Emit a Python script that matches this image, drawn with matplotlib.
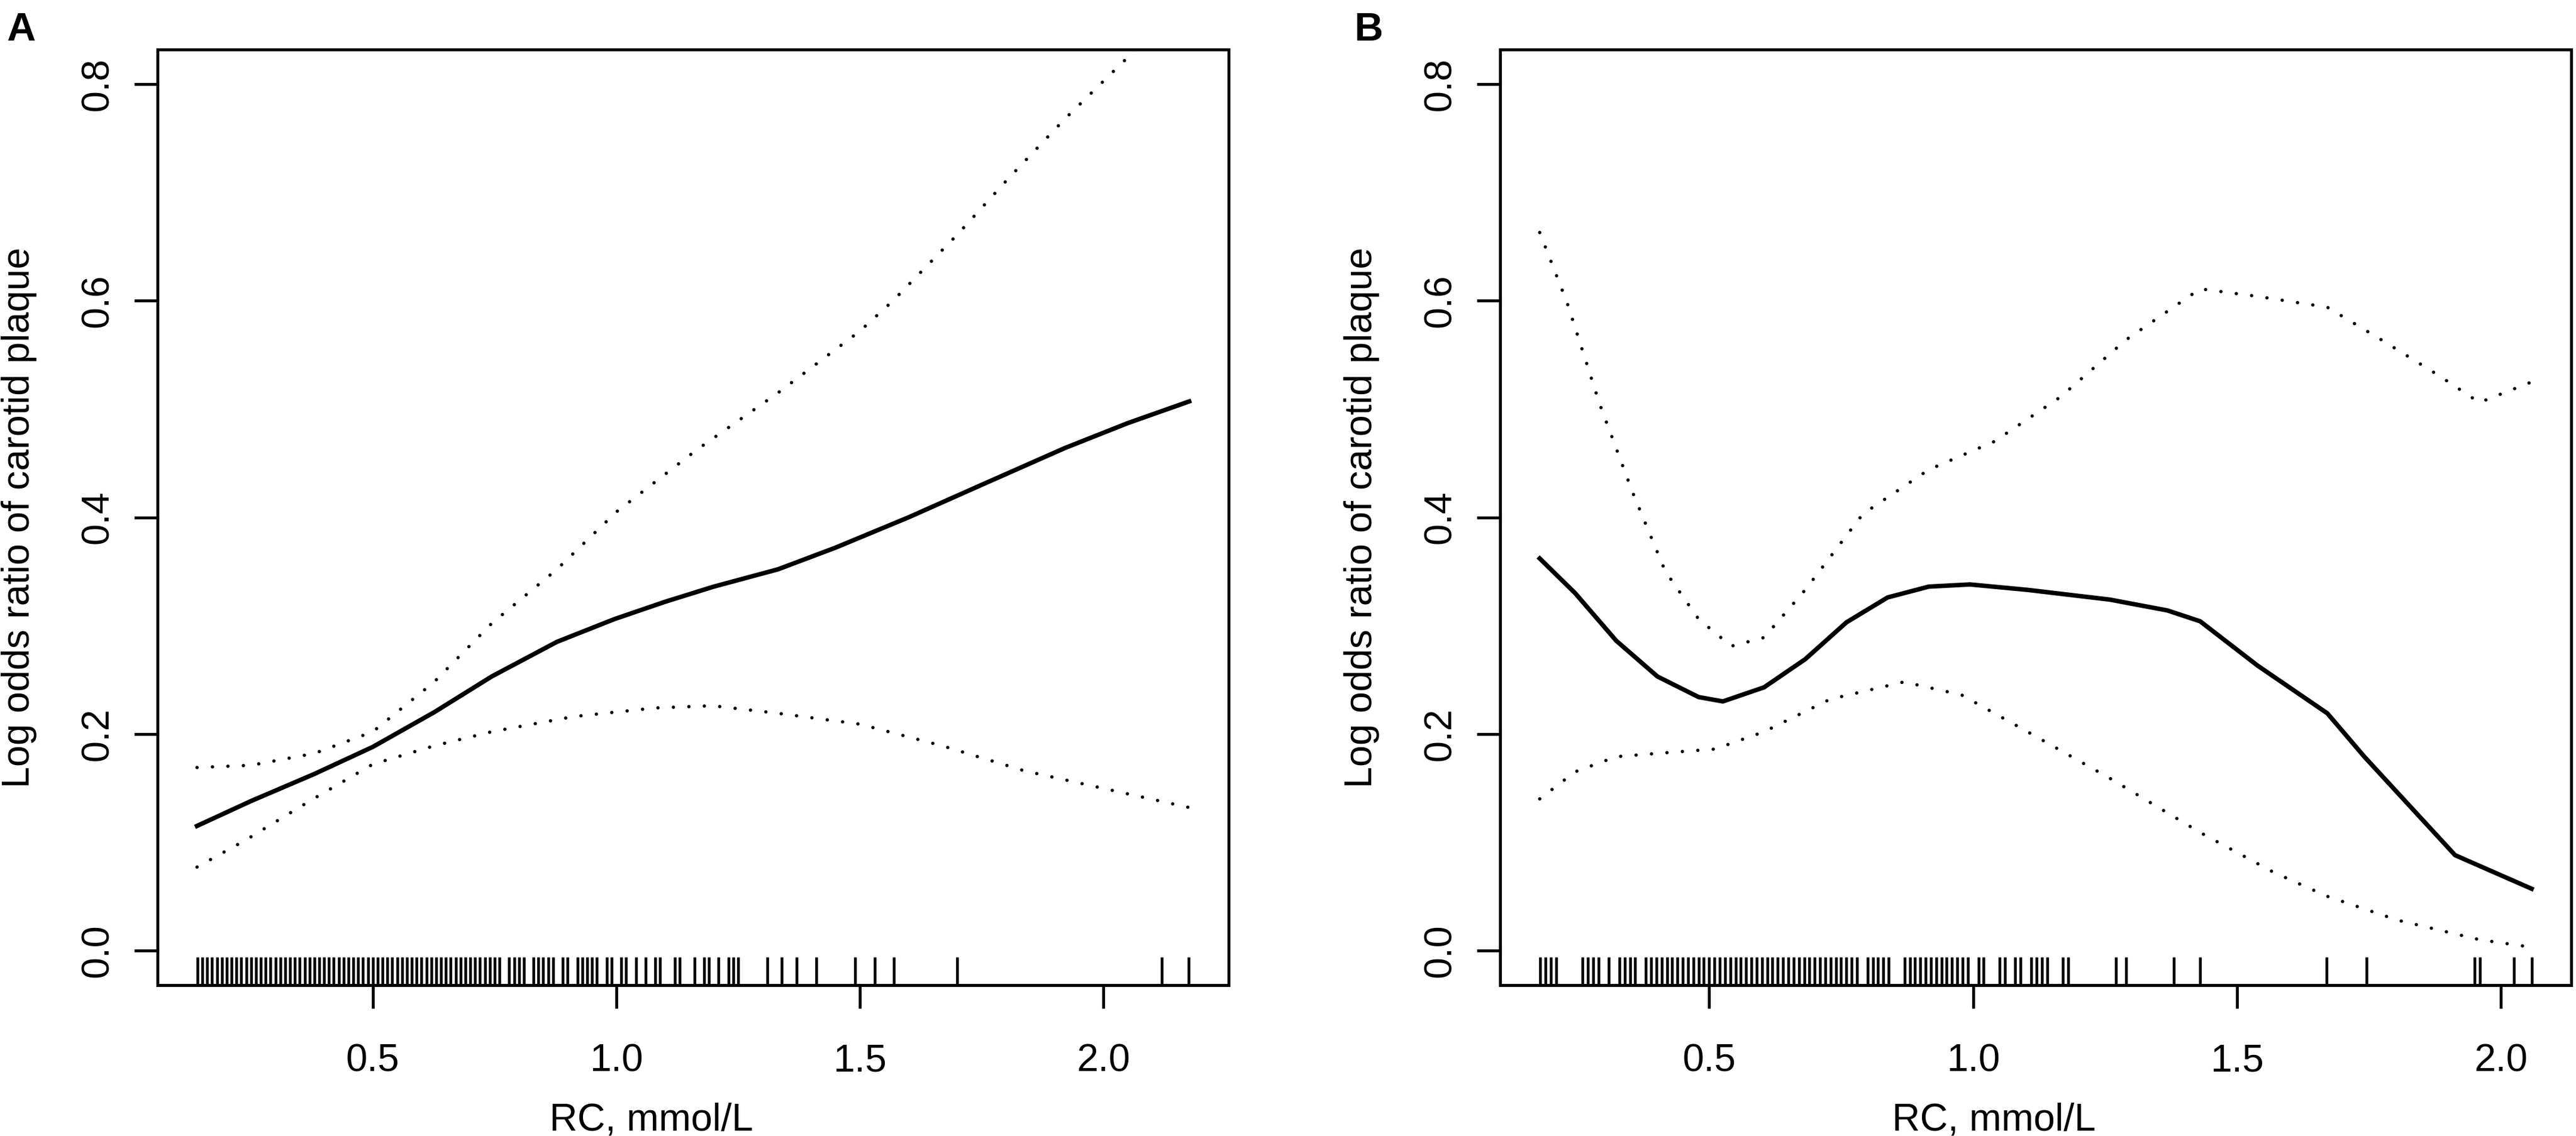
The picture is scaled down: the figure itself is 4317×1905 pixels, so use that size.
import matplotlib
matplotlib.use("Agg")
from matplotlib import pyplot as plt

plt.rcParams['font.family'] = ['Liberation Sans', 'DejaVu Sans']

# ---- data ----
# panel A
a_fit_x = [0.139, 0.250, 0.380, 0.500, 0.626, 0.744, 0.878, 0.996, 1.100, 1.200, 1.332,
           1.450, 1.600, 1.750, 1.921, 2.050, 2.176]
a_fit_y = [0.115, 0.138, 0.163, 0.188, 0.220, 0.253, 0.285, 0.306, 0.322, 0.336, 0.352,
           0.372, 0.400, 0.430, 0.464, 0.487, 0.507]
a_lo_x = [0.139, 0.239, 0.374, 0.500, 0.626, 0.744, 0.912, 1.080, 1.198, 1.332, 1.500, 1.669, 1.837, 2.176]
a_lo_y = [0.077, 0.102, 0.139, 0.172, 0.189, 0.202, 0.216, 0.224, 0.226, 0.219, 0.209, 0.189, 0.166, 0.132]
a_hi_x = [0.139, 0.250, 0.380, 0.500, 0.626, 0.744, 0.878, 1.000, 1.164, 1.332, 1.500, 1.568,
          1.702, 1.805, 1.921, 2.046, 2.176]
a_hi_y = [0.169, 0.171, 0.182, 0.202, 0.248, 0.302, 0.352, 0.405, 0.462, 0.515, 0.572, 0.600,
          0.662, 0.713, 0.768, 0.823, 0.882]
a_rug = [0.14, 0.15, 0.16, 0.17, 0.18, 0.19, 0.20, 0.21, 0.22, 0.23, 0.24, 0.25, 0.26,
         0.27, 0.28, 0.29, 0.30, 0.31, 0.32, 0.33, 0.34, 0.35, 0.36, 0.37, 0.38, 0.39,
         0.40, 0.41, 0.42, 0.43, 0.44, 0.45, 0.46, 0.47, 0.48, 0.49, 0.50, 0.51, 0.52,
         0.53, 0.54, 0.55, 0.56, 0.57, 0.58, 0.59, 0.60, 0.61, 0.62, 0.63, 0.64, 0.65,
         0.66, 0.67, 0.68, 0.69, 0.70, 0.71, 0.72, 0.73, 0.74, 0.75, 0.76,
         0.78, 0.79, 0.80, 0.81, 0.83, 0.84, 0.85, 0.86, 0.87, 0.89, 0.90,
         0.92, 0.93, 0.94, 0.95, 0.96, 0.98, 0.99, 1.01, 1.02, 1.04, 1.06, 1.08, 1.09,
         1.12, 1.13, 1.16, 1.18, 1.19, 1.21, 1.23, 1.24, 1.25,
         1.31, 1.34, 1.37, 1.41, 1.49, 1.53, 1.57, 1.70, 2.12, 2.175]

# panel B
b_fit_x = [0.179, 0.246, 0.324, 0.402, 0.480, 0.526, 0.604, 0.682, 0.760, 0.838, 0.916, 0.994,
           1.103, 1.259, 1.368, 1.430, 1.539, 1.671, 1.741, 1.913, 2.058]
b_fit_y = [0.362, 0.330, 0.286, 0.253, 0.234, 0.230, 0.243, 0.269, 0.303, 0.326, 0.336, 0.338,
           0.333, 0.324, 0.314, 0.304, 0.263, 0.219, 0.179, 0.088, 0.057]
b_hi_x = [0.179, 0.231, 0.293, 0.355, 0.417, 0.480, 0.542, 0.604, 0.682, 0.791, 0.916, 1.040,
          1.165, 1.290, 1.430, 1.539, 1.671, 1.773, 1.882, 1.959, 2.058]
b_hi_y = [0.663, 0.598, 0.504, 0.423, 0.350, 0.306, 0.281, 0.289, 0.333, 0.403, 0.444, 0.470,
          0.511, 0.564, 0.611, 0.604, 0.594, 0.564, 0.531, 0.506, 0.525]
b_lo_x = [0.179, 0.246, 0.324, 0.402, 0.511, 0.604, 0.729, 0.869, 0.978, 1.103, 1.259, 1.430,
          1.570, 1.671, 1.804, 1.959, 2.058]
b_lo_y = [0.140, 0.165, 0.179, 0.182, 0.186, 0.202, 0.232, 0.248, 0.236, 0.202, 0.159, 0.109,
          0.072, 0.050, 0.028, 0.010, 0.003]
b_rug = [0.18, 0.19, 0.20, 0.21, 0.26, 0.27, 0.28, 0.29, 0.31, 0.33, 0.34, 0.35, 0.36,
         0.38, 0.39, 0.40, 0.41, 0.42, 0.43, 0.44, 0.45, 0.46, 0.47, 0.48, 0.49, 0.50,
         0.51, 0.52, 0.53, 0.54, 0.55, 0.56, 0.57, 0.58, 0.59, 0.60, 0.61, 0.62, 0.63,
         0.64, 0.65, 0.66, 0.67, 0.68, 0.69, 0.70, 0.71, 0.72, 0.73, 0.74, 0.75, 0.76,
         0.77, 0.78, 0.80, 0.81, 0.82, 0.83, 0.84,
         0.87, 0.88, 0.89, 0.90, 0.91, 0.92, 0.93, 0.94, 0.95, 0.96, 0.97, 0.98, 0.99,
         1.01, 1.02, 1.05, 1.06, 1.08, 1.09, 1.11, 1.12, 1.13, 1.14, 1.17, 1.18,
         1.27, 1.29, 1.38, 1.43, 1.67, 1.745, 1.95, 1.96, 2.025, 2.058]

x_ticks = [0.5, 1.0, 1.5, 2.0]
x_tick_labels = ['0.5', '1.0', '1.5', '2.0']
y_ticks = [0.0, 0.2, 0.4, 0.6, 0.8]
y_tick_labels = ['0.0', '0.2', '0.4', '0.6', '0.8']
x_title = 'RC, mmol/L'
y_title = 'Log odds ratio of carotid plaque'

# ---- layout (pixels of the 4317 x 1905 output) ----
W, H = 4317, 1905
DPI = 300
FS = 15.5
DOT = (0, (0.01, 4.6))


def panel(ax, fx, fy, lx, ly, hx, hy, rug, xlim):
    ax.plot(fx, fy, color='black', lw=1.8, solid_joinstyle='round')
    ax.plot(lx, ly, color='black', lw=1.35, linestyle=DOT, dash_capstyle='round')
    ax.plot(hx, hy, color='black', lw=1.35, linestyle=DOT, dash_capstyle='round')
    ax.vlines(rug, 0, 0.03, transform=ax.get_xaxis_transform(), color='black', lw=1.1)

    ax.set_xlim(*xlim)
    ax.set_ylim(-0.032, 0.832)
    ax.set_xticks(x_ticks)
    ax.set_xticklabels(x_tick_labels)
    ax.set_yticks(y_ticks)
    ax.set_yticklabels(y_tick_labels, rotation=90, va='center')
    ax.tick_params(direction='out', length=9.4, width=1.15, labelsize=FS, color='black')
    ax.tick_params(axis='x', pad=14.0)
    ax.tick_params(axis='y', pad=7.5)
    for s in ax.spines.values():
        s.set_linewidth(1.2)
        s.set_color('black')

    ax.text(-232 / 1795, 0.5, y_title, transform=ax.transAxes, rotation=90,
            ha='center', va='center', fontsize=FS)
    ax.text(0.461, -(1879 - 1652) / 1569, x_title, transform=ax.transAxes,
            ha='center', va='center', fontsize=FS)


fig = plt.figure(figsize=(W / DPI, H / DPI), dpi=DPI)
axA = fig.add_axes([264 / W, 1 - 1652 / H, 1795 / W, 1569 / H])
axB = fig.add_axes([2514 / W, 1 - 1652 / H, 1795 / W, 1569 / H])

panel(axA, a_fit_x, a_fit_y, a_lo_x, a_lo_y, a_hi_x, a_hi_y, a_rug, (0.058, 2.257))
panel(axB, b_fit_x, b_fit_y, b_lo_x, b_lo_y, b_hi_x, b_hi_y, b_rug, (0.104, 2.133))

fig.text(35 / W, 1 - 51 / H, 'A', fontsize=16, fontweight='bold', ha='center', va='center')
fig.text(2294 / W, 1 - 51 / H, 'B', fontsize=16, fontweight='bold', ha='center', va='center')

fig.savefig('out.png', dpi=DPI, facecolor='white')
